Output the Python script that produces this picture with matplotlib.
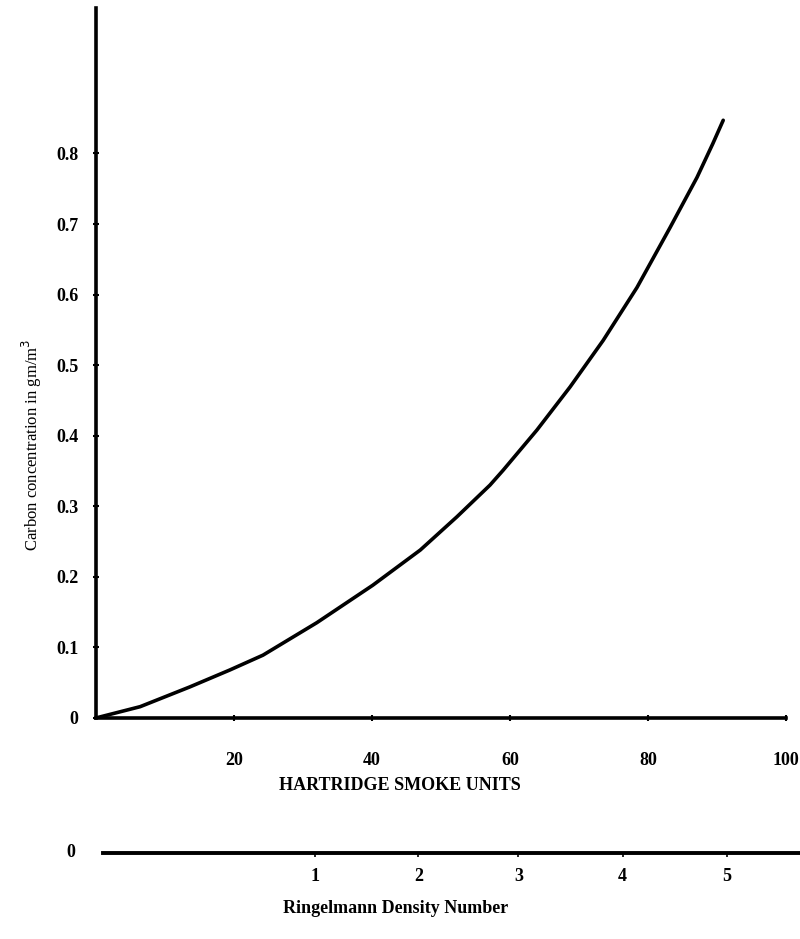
import matplotlib.pyplot as plt
import numpy as np

# curve (Hartridge units vs carbon gm/m3)
hartridge = [0, 6.4, 13.6, 19.4, 24.2, 32.0, 40.1, 47.0, 52.3, 57.1, 59.0, 63.9,
             68.7, 73.5, 78.4, 83.2, 87.1, 89.4, 90.9]
carbon = [0, 0.016, 0.044, 0.068, 0.089, 0.135, 0.188, 0.238, 0.285, 0.330, 0.351, 0.408,
          0.469, 0.535, 0.610, 0.695, 0.766, 0.814, 0.847]

x_ticks = [20, 40, 60, 80, 100]
y_ticks = [0, 0.1, 0.2, 0.3, 0.4, 0.5, 0.6, 0.7, 0.8]
y_labels = ["0", "0.1", "0.2", "0.3", "0.4", "0.5", "0.6", "0.7", "0.8"]

# Ringelmann numbers and where they fall on the Hartridge scale
ringelmann = [1, 2, 3, 4, 5]
ringelmann_at = [31.7, 46.7, 61.2, 76.3, 91.4]

serif = ["Liberation Serif", "DejaVu Serif"]

fig = plt.figure(figsize=(8, 9.39), dpi=100)
ax = fig.add_axes([0.12, 0.2354, 0.8625, 0.756])
ax.plot(hartridge, carbon, color="k", lw=2.6, solid_capstyle="round", solid_joinstyle="round")
ax.set_xlim(0, 100)
ax.set_ylim(0, 1.006)

for s in ["top", "right"]:
    ax.spines[s].set_visible(False)
for s in ["left", "bottom"]:
    ax.spines[s].set_linewidth(2.6)

ax.set_xticks(x_ticks)
ax.set_xticklabels([str(v) for v in x_ticks], fontfamily=serif, fontweight="bold", fontsize=13)
ax.set_yticks(y_ticks)
ax.set_yticklabels(y_labels, fontfamily=serif, fontweight="bold", fontsize=13)
ax.tick_params(axis="x", direction="inout", length=5, width=1.5, pad=22)
ax.tick_params(axis="y", direction="inout", length=5, width=1.5, pad=10)
ax.set_ylabel("Carbon concentration in gm/m$^3$", fontfamily=serif, fontsize=12)
ax.yaxis.set_label_coords(-0.075, 0.385)
ax.set_xlabel("HARTRIDGE SMOKE UNITS", fontfamily=serif, fontweight="bold", fontsize=13)
ax.xaxis.set_label_coords(0.44, -0.083)

# lower scale: Ringelmann density number
ax2 = fig.add_axes([0.129, 0.0916, 0.871, 0.001])
ax2.set_xlim((103 - 96) / 6.9, (800 - 96) / 6.9)
ax2.set_ylim(0, 1)
for s in ["top", "right", "left"]:
    ax2.spines[s].set_visible(False)
ax2.spines["bottom"].set_linewidth(2.8)
ax2.set_yticks([])
ax2.set_xticks(ringelmann_at)
ax2.set_xticklabels([str(v) for v in ringelmann], fontfamily=serif, fontweight="bold", fontsize=13)
ax2.tick_params(axis="x", direction="out", length=3, width=1.2, pad=8)
ax2.set_xlabel("Ringelmann Density Number", fontfamily=serif, fontweight="bold", fontsize=13)
ax2.xaxis.set_label_coords(0.419, -50)
ax2.text(-0.04, 0, "0", transform=ax2.transAxes, ha="right", va="center",
         fontfamily=serif, fontweight="bold", fontsize=13)

fig.savefig("out.png", dpi=100)
